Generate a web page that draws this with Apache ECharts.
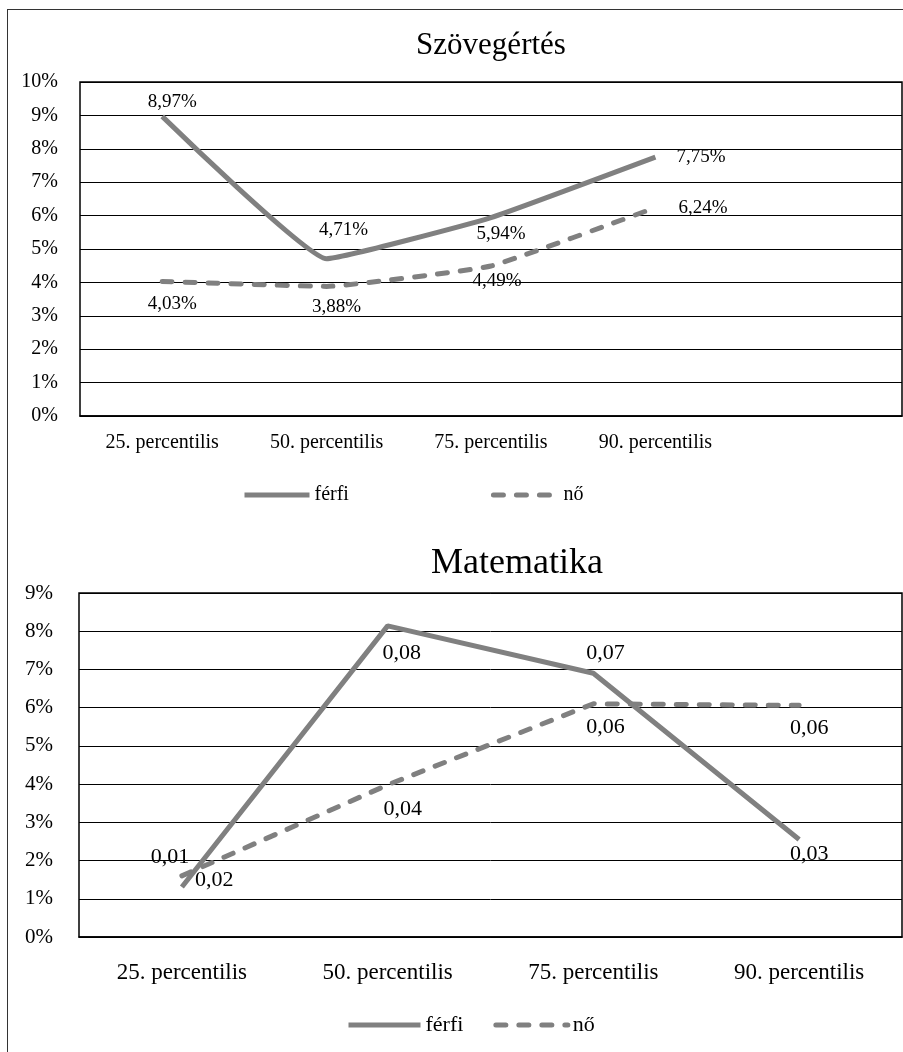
<!DOCTYPE html>
<html><head><meta charset="utf-8">
<script src="https://cdn.jsdelivr.net/npm/echarts@6/dist/echarts.min.js"></script>
<style>
html,body{margin:0;padding:0;background:#fff;}
#frame{position:absolute;left:7px;top:9px;width:920px;height:1100px;border:1.5px solid #333;box-sizing:border-box;}
#c{position:absolute;left:0;top:0;width:903px;height:1052px;}
</style></head>
<body><div id="frame"></div><div id="c"></div>
<script>
const titleTop = 'Szövegértés';
const titleBottom = 'Matematika';
const categoriesTop = ['25. percentilis', '50. percentilis', '75. percentilis', '90. percentilis', ''];
const categoriesBottom = ['25. percentilis', '50. percentilis', '75. percentilis', '90. percentilis'];
const seriesNames = ['férfi', 'nő'];
const readFerfi = [8.97, 4.71, 5.94, 7.75];
const readNo = [4.03, 3.88, 4.49, 6.24];
const mathFerfi = [1.31, 8.14, 6.90, 2.55];
const mathNo = [1.60, 3.98, 6.10, 6.06];

const serif = 'Liberation Serif';
const gray = '#808080';

const topPosF = [['top',[10,0]], ['top',[17,-14]], ['bottom',[10,2]], ['right',[16,0]]];
const topPosN = [['bottom',[10,8]], ['bottom',[10,6]], ['bottom',[6,0]], ['right',[18,0]]];
const botPosF = [['top',[-12,-14]], ['bottom',[14,11]], ['top',[12,-4]], ['bottom',[10,-1]]];
const botPosN = [['right',[8,4]], ['bottom',[15,8]], ['bottom',[12,7]], ['bottom',[10,7]]];

function mk(vals, pos, fmt, fs) {
  return vals.map((v, i) => ({
    value: v,
    label: { show: true, position: pos[i][0], offset: pos[i][1], formatter: fmt, fontFamily: serif, fontSize: fs, color: '#000' }
  }));
}
const fmtTop = p => p.value.toFixed(2).replace('.', ',') + '%';
const fmtBot = p => (p.value / 100).toFixed(2).replace('.', ',');

const chart = echarts.init(document.getElementById('c'));
const lbl = (fs) => ({ fontFamily: serif, fontSize: fs, color: '#000' });
const legendCommon = { itemStyle: { opacity: 0 }, lineStyle: { width: 5 } };
chart.setOption({
  animation: false,
  title: [
    { text: titleTop, left: 486, top: 25, textAlign: 'center', textStyle: { fontFamily: serif, fontSize: 31, fontWeight: 'normal', color: '#000' } },
    { text: titleBottom, left: 512, top: 541, textAlign: 'center', textStyle: { fontFamily: serif, fontSize: 36, fontWeight: 'normal', color: '#000' } }
  ],
  legend: [
    Object.assign({ data: seriesNames, left: 237, top: 480, itemWidth: 65, itemHeight: 14, itemGap: 142,
      textStyle: lbl(20) }, legendCommon),
    Object.assign({ data: seriesNames, left: 341, top: 1009, itemWidth: 72, itemHeight: 14, itemGap: 30,
      textStyle: lbl(22) }, legendCommon)
  ],
  grid: [
    { left: 80, top: 82, width: 822, height: 334, show: true, borderColor: '#000', borderWidth: 1.5 },
    { left: 79, top: 593, width: 823, height: 344, show: true, borderColor: '#000', borderWidth: 1.5 }
  ],
  xAxis: [
    { type: 'category', gridIndex: 0, data: categoriesTop, boundaryGap: true,
      axisLine: { lineStyle: { color: '#000', width: 1.5 } }, axisTick: { show: false },
      axisLabel: Object.assign({ margin: 17, interval: 0 }, lbl(20)) },
    { type: 'category', gridIndex: 1, data: categoriesBottom, boundaryGap: true,
      axisLine: { lineStyle: { color: '#000', width: 1.5 } }, axisTick: { show: false },
      axisLabel: Object.assign({ margin: 24, interval: 0 }, lbl(23)) }
  ],
  yAxis: [
    { type: 'value', gridIndex: 0, min: 0, max: 10, interval: 1,
      axisLine: { show: false }, axisTick: { show: false },
      splitLine: { lineStyle: { color: '#000', width: 1 } },
      axisLabel: Object.assign({ formatter: '{value}%', margin: 22 }, lbl(20)) },
    { type: 'value', gridIndex: 1, min: 0, max: 9, interval: 1,
      axisLine: { show: false }, axisTick: { show: false },
      splitLine: { lineStyle: { color: '#000', width: 1 } },
      axisLabel: Object.assign({ formatter: '{value}%', margin: 26 }, lbl(21)) }
  ],
  series: [
    { name: seriesNames[0], type: 'line', xAxisIndex: 0, yAxisIndex: 0, symbol: 'circle', symbolSize: 0.01, smooth: 0.1,
      lineStyle: { color: gray, width: 5 }, itemStyle: { color: gray },
      data: mk(readFerfi, topPosF, fmtTop, 19) },
    { name: seriesNames[1], type: 'line', xAxisIndex: 0, yAxisIndex: 0, symbol: 'circle', symbolSize: 0.01, smooth: 0.1,
      lineStyle: { color: gray, width: 5, type: [10, 13], cap: 'round' }, itemStyle: { color: gray },
      data: mk(readNo, topPosN, fmtTop, 19) },
    { name: seriesNames[0], type: 'line', xAxisIndex: 1, yAxisIndex: 1, symbol: 'circle', symbolSize: 0.01,
      lineStyle: { color: gray, width: 5 }, itemStyle: { color: gray },
      data: mk(mathFerfi, botPosF, fmtBot, 22) },
    { name: seriesNames[1], type: 'line', xAxisIndex: 1, yAxisIndex: 1, symbol: 'circle', symbolSize: 0.01,
      lineStyle: { color: gray, width: 5, type: [10, 13], cap: 'round' }, itemStyle: { color: gray },
      data: mk(mathNo, botPosN, fmtBot, 22) }
  ]
});
</script></body></html>
